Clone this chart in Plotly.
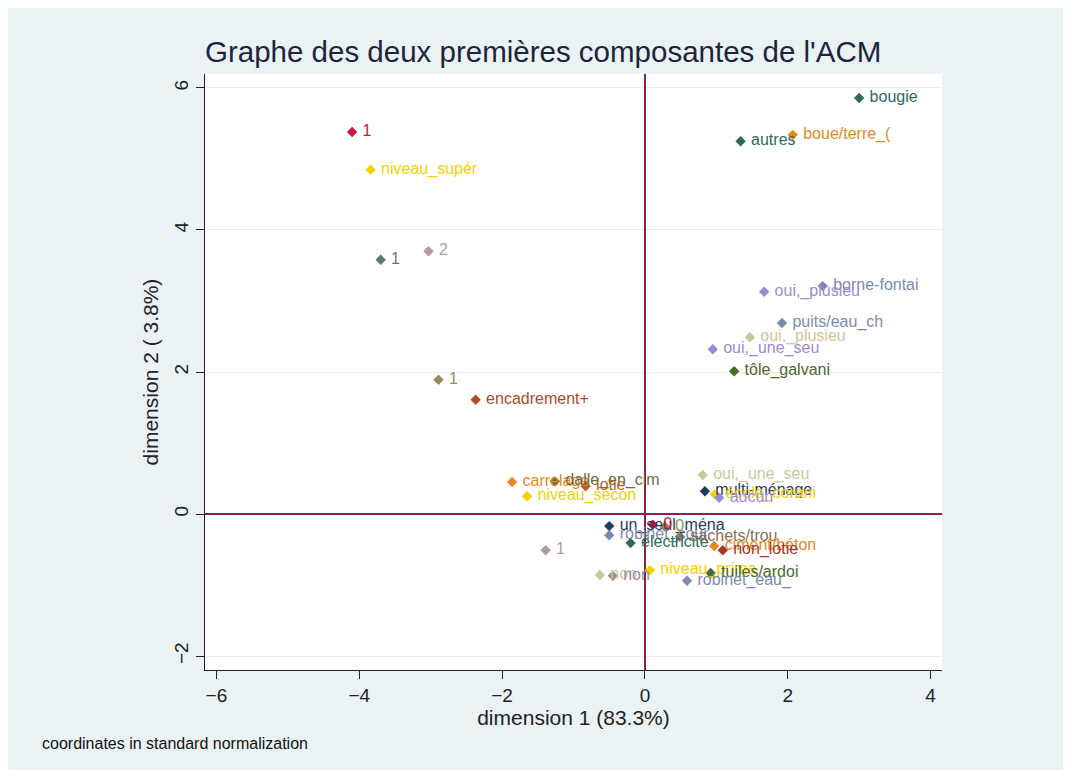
import plotly.graph_objects as go

# Category labels (truncated to 12 characters) and their MCA coordinates
categories = [
    "1", "niveau_supér", "1", "2", "1", "encadrement+",
    "bougie", "autres", "boue/terre_(", "borne-fontai", "oui,_plusieu",
    "puits/eau_ch", "oui,_plusieu", "oui,_une_seu", "tôle_galvani",
    "carrelage", "dalle_en_cim", "lotie", "niveau_secon", "1", "non", "non",
    "oui,_une_seu", "multi-ménage", "école_corani", "aucun",
    "un_seul_ména", "robinet_cour", "électricité", "0", "0", "sachets/trou",
    "ciment/béton", "non_lotie", "niveau_prima", "tuiles/ardoi", "robinet_eau_",
]
dim1 = [
    -4.10, -3.84, -3.70, -3.03, -2.89, -2.37,
    3.00, 1.34, 2.07, 2.49, 1.67,
    1.92, 1.47, 0.95, 1.25,
    -1.86, -1.26, -0.83, -1.65, -1.39, -0.63, -0.45,
    0.81, 0.84, 0.98, 1.04,
    -0.50, -0.50, -0.20, 0.11, 0.28, 0.49,
    0.97, 1.09, 0.07, 0.92, 0.59,
]
dim2 = [
    5.38, 4.85, 3.58, 3.70, 1.89, 1.61,
    5.86, 5.25, 5.34, 3.21, 3.13,
    2.69, 2.49, 2.32, 2.01,
    0.45, 0.46, 0.39, 0.25, -0.51, -0.86, -0.87,
    0.55, 0.32, 0.28, 0.23,
    -0.17, -0.30, -0.41, -0.15, -0.18, -0.32,
    -0.45, -0.51, -0.79, -0.83, -0.94,
]
# Variable each category belongs to
variables = [
    "v_rouge", "instruction", "v_gris", "v_rose", "v_olive", "murs",
    "eclairage", "eclairage", "sol", "eau", "wc_partage",
    "eau", "cour_partage", "wc_partage", "toit",
    "sol", "dalle", "lotissement", "instruction", "v_rose", "cour_partage", "v_mauve",
    "cour_partage", "menage", "instruction", "wc_partage",
    "menage", "eau", "eclairage", "v_rouge", "v_olive", "aisance",
    "sol", "lotissement2", "instruction", "toit", "eau",
]

# Colour per variable
palette = {
    "v_rouge": "#c8163c",
    "instruction": "#f4d000",
    "v_gris": "#60796f",
    "v_rose": "#b09c98",
    "v_olive": "#978b55",
    "murs": "#b04a2c",
    "eclairage": "#2d6a5e",
    "sol": "#e4891c",
    "eau": "#7b8bad",
    "wc_partage": "#9a8cd2",
    "cour_partage": "#cdc597",
    "toit": "#4a6a28",
    "dalle": "#6e6a40",
    "lotissement": "#b4622a",
    "lotissement2": "#a2382c",
    "menage": "#1e3c5e",
    "v_mauve": "#9a8c98",
    "aisance": "#8a6e52",
}
colors = [palette[v] for v in variables]

FONT = "Liberation Sans, Arial"

fig = go.Figure()
fig.add_trace(go.Scatter(
    x=dim1, y=dim2, mode="markers+text",
    text=categories, texttemplate=" %{text}", textposition="middle right",
    marker=dict(symbol="diamond", size=8, color=colors, line=dict(width=0)),
    textfont=dict(family=FONT, size=16, color=colors),
    hoverinfo="skip", showlegend=False, cliponaxis=False,
))

tick_font = dict(family=FONT, size=19, color="#222222")
title_font = dict(family=FONT, size=21, color="#222222")

fig.update_layout(
    width=1071, height=778,
    margin=dict(l=205, r=129, t=74, b=108),
    paper_bgcolor="white", plot_bgcolor="white",
    font=dict(family=FONT, color="#222222"),
    title=dict(
        text="Graphe des deux premières composantes de l'ACM",
        x=0, xref="paper", xanchor="left",
        y=1 - 52 / 778, yref="container", yanchor="middle",
        font=dict(family=FONT, size=29.5, color="#1e2440"),
    ),
    xaxis=dict(
        range=[-6.16, 4.16], tickvals=[-6, -4, -2, 0, 2, 4],
        showgrid=False, zeroline=True, zerolinecolor="#8e2147", zerolinewidth=1.5,
        showline=True, linecolor="#222222", linewidth=1,
        ticks="outside", ticklen=8, tickcolor="#222222", tickfont=tick_font,
        title=dict(text="dimension 1 (83.3%)", font=title_font, standoff=5),
    ),
    yaxis=dict(
        range=[-2.197, 6.197], tickvals=[-2, 0, 2, 4, 6], tickangle=-90,
        showgrid=True, gridcolor="#e6edef", gridwidth=1,
        zeroline=True, zerolinecolor="#8e2147", zerolinewidth=1.5,
        showline=True, linecolor="#222222", linewidth=1,
        ticks="outside", ticklen=8, tickcolor="#222222", tickfont=tick_font,
        title=dict(text="dimension 2 ( 3.8%)", font=title_font, standoff=7),
    ),
    shapes=[
        # graph region background
        dict(type="rect", xref="paper", yref="paper", layer="below",
             x0=(8 - 205) / 737, x1=(1063 - 205) / 737,
             y0=(670 - 770) / 596, y1=(670 - 8) / 596,
             fillcolor="#eaf2f3", line=dict(width=0)),
        # plot region
        dict(type="rect", xref="paper", yref="paper", layer="below",
             x0=0, x1=1, y0=0, y1=1, fillcolor="white", line=dict(width=0)),
    ],
    annotations=[
        dict(text="coordinates in standard normalization",
             xref="paper", yref="paper",
             x=(40 - 205) / 737, y=(670 - 743) / 596,
             xanchor="left", yanchor="middle", showarrow=False,
             font=dict(family=FONT, size=16, color="#111111")),
    ],
)

fig.write_html("out.html")
